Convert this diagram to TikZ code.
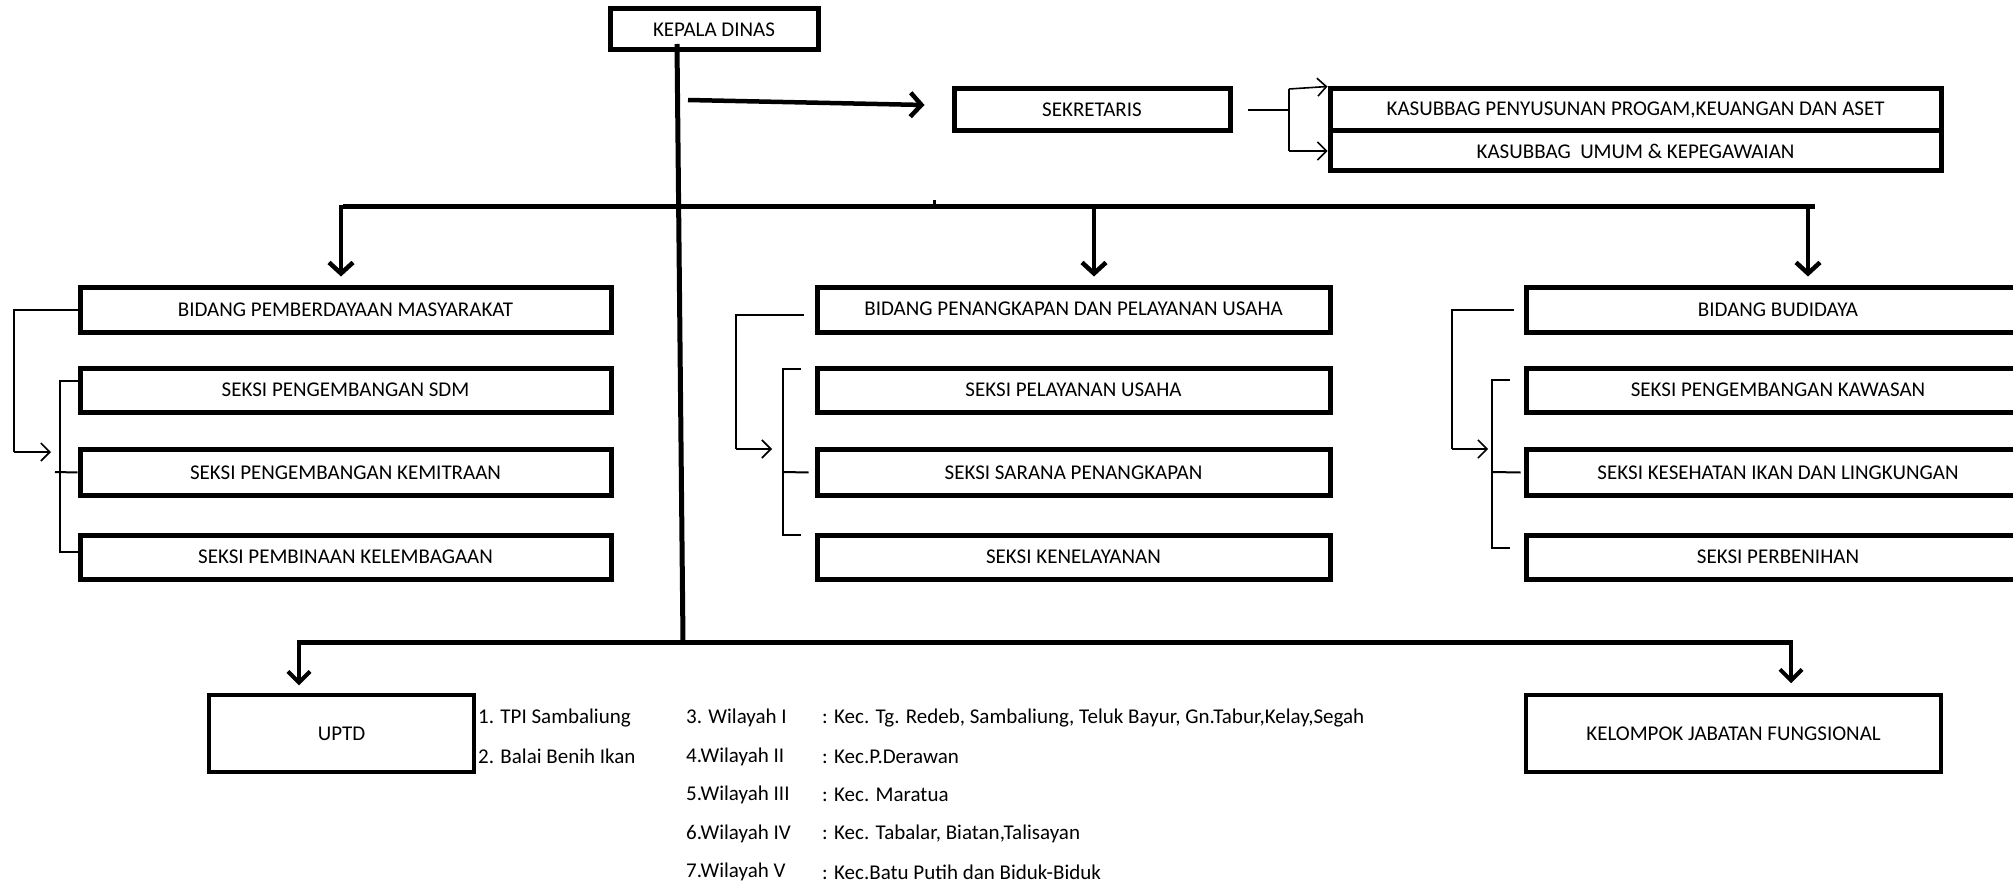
\documentclass[tikz,border=0pt]{standalone}
\usepackage{fontspec}
\setmainfont{Carlito}
\usetikzlibrary{arrows.meta}
\begin{document}
\begin{tikzpicture}[x=1pt,y=-1pt,
  box/.style={draw, line width=5pt, inner sep=0pt, font=\fontsize{21}{24}\selectfont},
  bbox/.style={draw, line width=3.5pt, inner sep=0pt, font=\fontsize{21}{24}\selectfont},
  txt/.style={anchor=west, inner sep=0pt, font=\fontsize{21}{24}\selectfont},
  bus/.style={line width=5pt},
  bigarrow/.style={line width=4.5pt, -{Straight Barb[length=11pt,width=24pt]}},
  conn/.style={line width=2pt},
  thinarrow/.style={line width=1.6pt, -{Straight Barb[length=9pt,width=18pt]}}
]
\useasboundingbox (0,0) rectangle (2013,885);
\clip (0,0) rectangle (2013,885);
\fill[white] (0,0) rectangle (2013,885);

% top
\node[box, minimum width=208pt, minimum height=41pt] (kd) at (714,29.5) {KEPALA DINAS};
\node[box, minimum width=276pt, minimum height=42pt] (sek) at (1092,110) {SEKRETARIS};
\node[box, minimum width=611pt, minimum height=42pt] (ks1) at (1635.5,110) {KASUBBAG PENYUSUNAN PROGAM,KEUANGAN DAN ASET};
\node[box, minimum width=611pt, minimum height=40pt] (ks2) at (1635.5,151) {KASUBBAG\ \ UMUM \& KEPEGAWAIAN};

% columns
\node[box, minimum width=531pt, minimum height=44pt] (a0) at (345.5,310) {BIDANG PEMBERDAYAAN MASYARAKAT};
\node[box, minimum width=531pt, minimum height=44pt] (a1) at (345.5,390) {SEKSI PENGEMBANGAN SDM};
\node[box, minimum width=531pt, minimum height=46pt] (a2) at (345.5,472.5) {SEKSI PENGEMBANGAN KEMITRAAN};
\node[box, minimum width=531pt, minimum height=44pt] (a3) at (345.5,557) {SEKSI PEMBINAAN KELEMBAGAAN};

\node[box, minimum width=513pt, minimum height=44pt] (b0) at (1073.5,310) {\raisebox{3pt}{BIDANG PENANGKAPAN DAN PELAYANAN USAHA}};
\node[box, minimum width=513pt, minimum height=44pt] (b1) at (1073.5,390) {SEKSI PELAYANAN USAHA};
\node[box, minimum width=513pt, minimum height=46pt] (b2) at (1073.5,472.5) {SEKSI SARANA PENANGKAPAN};
\node[box, minimum width=513pt, minimum height=44pt] (b3) at (1073.5,557) {SEKSI KENELAYANAN};

\node[box, minimum width=504pt, minimum height=44pt] (c0) at (1778,310) {BIDANG BUDIDAYA};
\node[box, minimum width=504pt, minimum height=44pt] (c1) at (1778,390) {SEKSI PENGEMBANGAN KAWASAN};
\node[box, minimum width=504pt, minimum height=46pt] (c2) at (1778,472.5) {SEKSI KESEHATAN IKAN DAN LINGKUNGAN};
\node[box, minimum width=504pt, minimum height=44pt] (c3) at (1778,557) {SEKSI PERBENIHAN};

% bottom
\node[bbox, minimum width=265pt, minimum height=77pt] (uptd) at (341.5,733.5) {UPTD};
\node[bbox, minimum width=415pt, minimum height=77pt] (kjf) at (1733.5,733.5) {KELOMPOK JABATAN FUNGSIONAL};

\node[txt] (u1) at (478,718) {1. TPI Sambaliung};
\node[txt] (u2) at (478,756) {2. Balai Benih Ikan};
\node[txt] (w1) at (686,718) {3. Wilayah I};
\node[txt] (w2) at (686,757) {4.Wilayah II};
\node[txt] (w3) at (686,795) {5.Wilayah III};
\node[txt] (w4) at (686,834) {6.Wilayah IV};
\node[txt] (w5) at (686,872) {7.Wilayah V};
\node[txt] (k1) at (822,718) {: Kec. Tg. Redeb, Sambaliung, Teluk Bayur, Gn.Tabur,Kelay,Segah};
\node[txt] (k2) at (822,757) {: Kec.P.Derawan};
\node[txt] (k3) at (822,795) {: Kec. Maratua};
\node[txt] (k4) at (822,834) {: Kec. Tabalar, Biatan,Talisayan};
\node[txt] (k5) at (822,872) {: Kec.Batu Putih dan Biduk-Biduk};

% coordinates
\coordinate (t1) at (677,44);
\coordinate (t2) at (683,642);
\coordinate (busL) at (343,207);
\coordinate (busR) at (1815,207);
\coordinate (bus2L) at (297,642);
\coordinate (bus2R) at (1791,642);
\coordinate (skA) at (688,100);

% trunk and buses
\draw[line width=5pt] (t1) -- (t2);
\draw[bus] (busL) -- (busR);
\draw[line width=3pt] (934,207) -- (934,200);
\draw[bus] (bus2L) -- (bus2R);

% arrows
\draw[bigarrow] (skA) -- ([xshift=-27pt,yshift=5pt]sek.west);
\draw[bigarrow] (341,205) -- ([yshift=9pt]a0.north -| 341,0);
\draw[bigarrow] (1094,205) -- ([yshift=9pt]b0.north -| 1094,0);
\draw[bigarrow] (1808,205) -- ([yshift=9pt]c0.north -| 1808,0);
\draw[line width=4pt, -{Straight Barb[length=11pt,width=22pt]}] (299,640) -- ([yshift=8pt]uptd.north -| 299,0);
\draw[line width=4pt, -{Straight Barb[length=11pt,width=22pt]}] (1791,640) -- ([yshift=10pt]kjf.north -| 1791,0);

% sekretaris connector
\draw[conn] ([xshift=15pt]sek.east) -- (1289,110);
\draw[conn] (1289,89) -- (1289,151);
\draw[thinarrow] (1289,89) -- (ks1.north west);
\draw[thinarrow] (1289,151) -- (ks2.west);

% left bracket
\draw[conn] (a0.west) -- (14,310) -- (14,452);
\draw[thinarrow] (14,452) -- (51,452);
\draw[conn] (80,381) -- (60,381) -- (60,552) -- (80,552);
\draw[conn] (55,472) -- (a2.west);

% middle bracket
\draw[conn] ([xshift=-11pt,yshift=-5pt]b0.west) -- (736,315) -- (736,449);
\draw[thinarrow] (736,449) -- (772,449);
\draw[conn] (801,369) -- (783,369) -- (783,535) -- (801,535);
\draw[conn] (783,472) -- ([xshift=-6pt]b2.west);

% right bracket
\draw[conn] ([xshift=-10pt]c0.west) -- (1452,310) -- (1452,449);
\draw[thinarrow] (1452,449) -- (1488,449);
\draw[conn] (1510,380) -- (1492,380) -- (1492,548) -- (1510,548);
\draw[conn] (1492,472) -- ([xshift=-3pt]c2.west);
\end{tikzpicture}
\end{document}
